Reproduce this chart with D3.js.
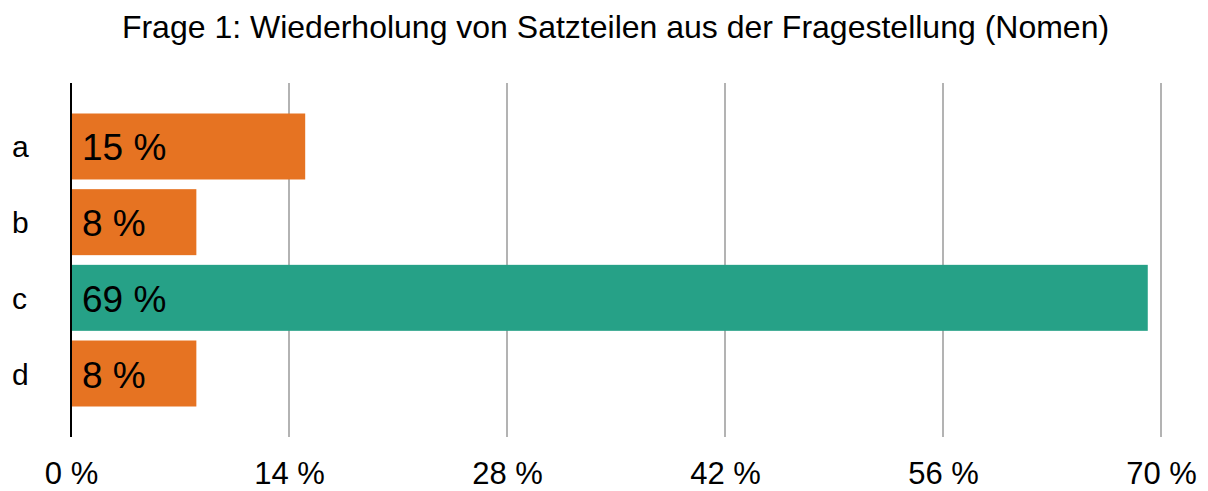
<!DOCTYPE html>
<html><head><meta charset="utf-8">
<script src="https://cdn.jsdelivr.net/npm/d3@7"></script>
<style>body{margin:0;background:#fff;}svg{display:block;font-family:"Liberation Sans",Arial,sans-serif;}</style>
</head><body>
<svg id="chart" width="1208" height="491"></svg>
<script>
const title = "Frage 1: Wiederholung von Satzteilen aus der Fragestellung (Nomen)";
const categories = ["a", "b", "c", "d"];
const values = [15.04, 8.05, 69.15, 8.05];
const labels = ["15 %", "8 %", "69 %", "8 %"];
const correct = [false, false, true, false];
const tickValues = [0, 14, 28, 42, 56, 70];
const tickLabels = ["0 %", "14 %", "28 %", "42 %", "56 %", "70 %"];

const svg = d3.select("#chart");
const W = 1208, H = 491;
const m = {left: 71, right: 47, top: 83, bottom: 54};
const x = d3.scaleLinear().domain([0, 70]).range([m.left, W - m.right]);
const y = d3.scaleBand().domain(categories).range([m.top, H - m.bottom]).paddingInner(0.128).paddingOuter(0.403);

svg.append("text").attr("x", 615.5).attr("y", 38).attr("text-anchor", "middle")
  .attr("font-size", 32).attr("fill", "#000").text(title);

// grid
svg.append("g").selectAll("line").data(tickValues.filter(d => d > 0)).join("line")
  .attr("x1", d => x(d)).attr("x2", d => x(d)).attr("y1", m.top).attr("y2", H - m.bottom)
  .attr("stroke", "#b3b3b3").attr("stroke-width", 2);

// bars
svg.append("g").selectAll("rect").data(categories).join("rect")
  .attr("x", x(0) + 1).attr("y", d => y(d))
  .attr("width", (d, i) => x(values[i]) - x(0) - 1).attr("height", y.bandwidth())
  .attr("fill", (d, i) => correct[i] ? "#26a187" : "#e67322");

// bar labels
svg.append("g").selectAll("text").data(categories).join("text")
  .attr("x", x(0) + 11).attr("y", d => y(d) + y.bandwidth() / 2 + 14)
  .attr("font-size", 37).attr("fill", "#000").text((d, i) => labels[i]);

// axis line
svg.append("line").attr("x1", x(0)).attr("x2", x(0)).attr("y1", m.top).attr("y2", H - m.bottom)
  .attr("stroke", "#000").attr("stroke-width", 2);

// category labels
svg.append("g").selectAll("text").data(categories).join("text")
  .attr("x", 12).attr("y", d => y(d) + y.bandwidth() / 2 + 11)
  .attr("font-size", 30).attr("fill", "#000").text(d => d);

// x tick labels
const xAxis = d3.axisBottom(x).tickValues(tickValues).tickFormat((d, i) => tickLabels[i]).tickSize(0).tickPadding(0);
const gx = svg.append("g").attr("transform", `translate(0,${H - 7})`).call(xAxis);
gx.select(".domain").remove();
gx.selectAll("text").attr("font-size", 31).attr("fill", "#000").attr("font-family", "Liberation Sans, Arial, sans-serif").attr("dy", null).attr("y", 0);
</script>
</body></html>
